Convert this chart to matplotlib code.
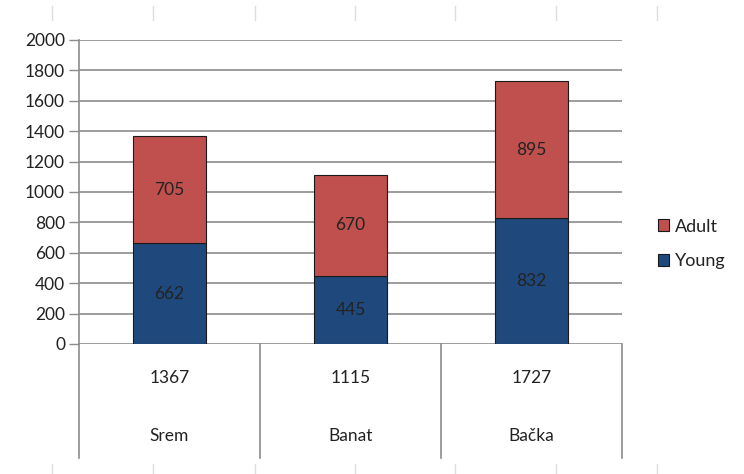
import matplotlib.pyplot as plt
import numpy as np

regions = ['Srem', 'Banat', 'Bačka']
young = [662, 445, 832]
adult = [705, 670, 895]
totals = [1367, 1115, 1727]
yticks = list(range(0, 2001, 200))

red = '#C0504D'
blue = '#1F497D'
grid_c = '#8C8C8C'
txt_c = '#222222'

plt.rcParams['font.family'] = ['Lato', 'DejaVu Sans']
plt.rcParams['font.size'] = 12.5

fig = plt.figure(figsize=(7.44, 4.74), dpi=100)
ax = fig.add_axes([79 / 744, 1 - 344 / 474, (622 - 79) / 744, 304 / 474])

x = np.arange(len(regions))
b1 = ax.bar(x, young, width=0.4, color=blue, edgecolor='#1a1a1a', linewidth=0.8, label='Young', zorder=3)
b2 = ax.bar(x, adult, width=0.4, bottom=young, color=red, edgecolor='#1a1a1a', linewidth=0.8, label='Adult', zorder=3)

for i in range(len(regions)):
    ax.text(x[i], young[i] / 2, str(young[i]), ha='center', va='center', color=txt_c, zorder=4)
    ax.text(x[i], young[i] + adult[i] / 2, str(adult[i]), ha='center', va='center', color=txt_c, zorder=4)

ax.set_xlim(-0.5, len(regions) - 0.5)
ax.set_ylim(0, 2000)
ax.set_yticks(yticks)
ax.yaxis.grid(True, color=grid_c, linewidth=1.2, zorder=0)
ax.set_axisbelow(True)
ax.tick_params(axis='y', length=7, color=grid_c, width=1, pad=3, labelcolor=txt_c)
ax.tick_params(axis='x', length=0, labelbottom=False)
for s in ['top', 'right', 'bottom']:
    ax.spines[s].set_visible(False)
ax.spines['left'].set_color(grid_c)
ax.spines['left'].set_linewidth(1.2)

# category table under the axis
depth = (458 - 344) / 304
for xb in np.arange(-0.5, len(regions), 1.0):
    ax.plot([xb, xb], [0, -depth * 2000], color=grid_c, lw=1.2, clip_on=False)
for i in range(len(regions)):
    ax.text(x[i], -(378 - 344) / 304 * 2000, str(totals[i]), ha='center', va='center', color=txt_c)
    ax.text(x[i], -(436 - 344) / 304 * 2000, regions[i], ha='center', va='center', color=txt_c)

handles = [b2, b1]
leg = fig.legend(handles, ['Adult', 'Young'], loc='center left', bbox_to_anchor=(642 / 744, 1 - 244 / 474),
                 frameon=False, handlelength=0.6, handleheight=0.6, handletextpad=0.3, labelspacing=1.05,
                 fontsize=13)
for t in leg.get_texts():
    t.set_color(txt_c)

# faint marks along the top and bottom edges
for px in [52, 153, 255, 355, 455, 556, 657]:
    fig.add_artist(plt.Line2D([px / 744, px / 744], [1 - 6 / 474, 1 - 20 / 474], color='#DEDEDE', lw=1))
    fig.add_artist(plt.Line2D([px / 744, px / 744], [0, 1 - 464 / 474], color='#DEDEDE', lw=1))

fig.savefig('out.png', dpi=100)
